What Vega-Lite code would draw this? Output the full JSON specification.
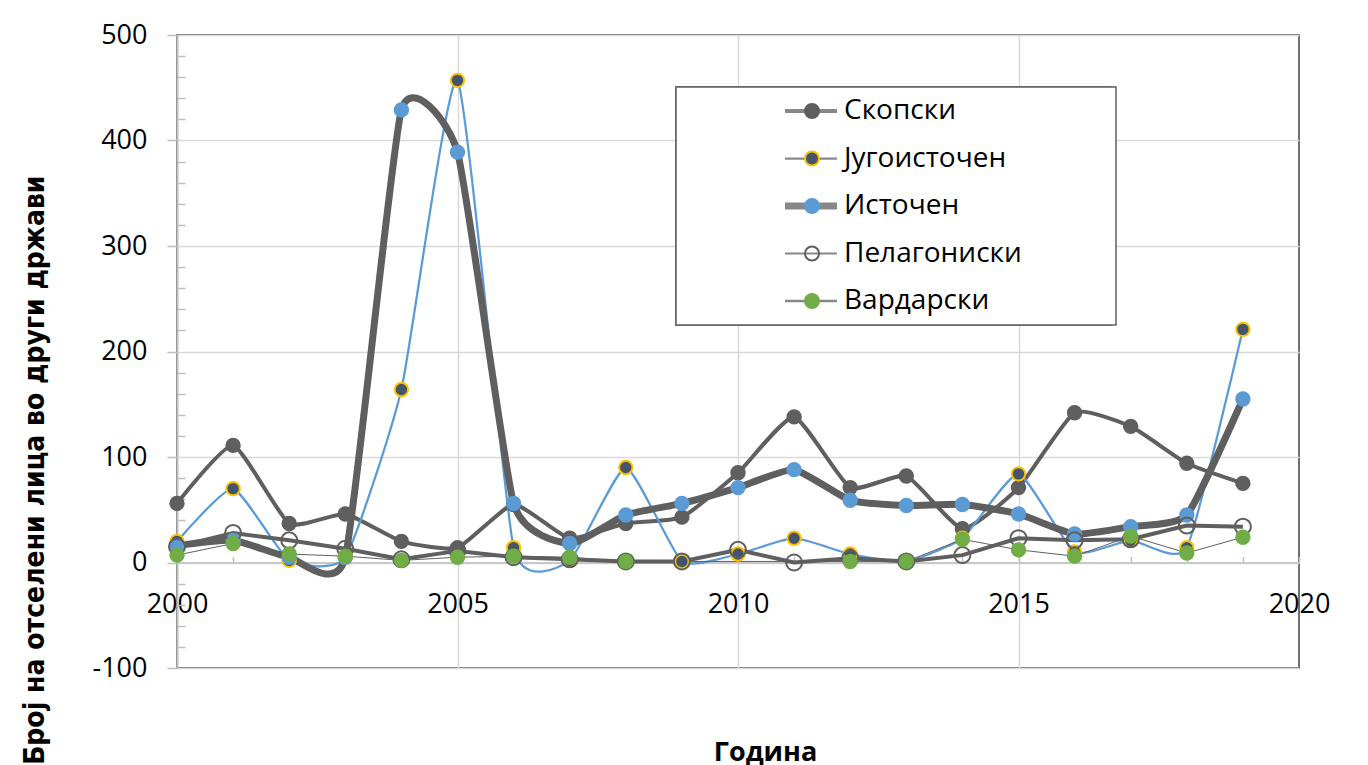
{
  "$schema": "https://vega.github.io/schema/vega-lite/v6.json",
  "width": 1122,
  "height": 633,
  "autosize": {"type": "none"},
  "padding": {"left": 177, "top": 35, "right": 69, "bottom": 97},
  "background": "white",
  "config": {
    "font": "Open Sans",
    "view": {"stroke": "#707070", "strokeWidth": 2},
    "axis": {"labelFont": "Open Sans", "labelFontSize": 27, "labelColor": "#000000", "gridColor": "#d9d9d9", "gridWidth": 1.5}
  },
  "datasets": {
    "d": [
      {"year": 2000, "series": "Скопски", "value": 56},
      {"year": 2001, "series": "Скопски", "value": 111},
      {"year": 2002, "series": "Скопски", "value": 37},
      {"year": 2003, "series": "Скопски", "value": 46},
      {"year": 2004, "series": "Скопски", "value": 20},
      {"year": 2005, "series": "Скопски", "value": 14},
      {"year": 2006, "series": "Скопски", "value": 55},
      {"year": 2007, "series": "Скопски", "value": 23},
      {"year": 2008, "series": "Скопски", "value": 37},
      {"year": 2009, "series": "Скопски", "value": 43},
      {"year": 2010, "series": "Скопски", "value": 85},
      {"year": 2011, "series": "Скопски", "value": 138},
      {"year": 2012, "series": "Скопски", "value": 71},
      {"year": 2013, "series": "Скопски", "value": 82},
      {"year": 2014, "series": "Скопски", "value": 32},
      {"year": 2015, "series": "Скопски", "value": 71},
      {"year": 2016, "series": "Скопски", "value": 142},
      {"year": 2017, "series": "Скопски", "value": 129},
      {"year": 2018, "series": "Скопски", "value": 94},
      {"year": 2019, "series": "Скопски", "value": 75},
      {"year": 2000, "series": "Југоисточен", "value": 20},
      {"year": 2001, "series": "Југоисточен", "value": 70},
      {"year": 2002, "series": "Југоисточен", "value": 2},
      {"year": 2003, "series": "Југоисточен", "value": 5},
      {"year": 2004, "series": "Југоисточен", "value": 164},
      {"year": 2005, "series": "Југоисточен", "value": 457},
      {"year": 2006, "series": "Југоисточен", "value": 14},
      {"year": 2007, "series": "Југоисточен", "value": 2},
      {"year": 2008, "series": "Југоисточен", "value": 90},
      {"year": 2009, "series": "Југоисточен", "value": 1},
      {"year": 2010, "series": "Југоисточен", "value": 8},
      {"year": 2011, "series": "Југоисточен", "value": 23},
      {"year": 2012, "series": "Југоисточен", "value": 8},
      {"year": 2013, "series": "Југоисточен", "value": 1},
      {"year": 2014, "series": "Југоисточен", "value": 23},
      {"year": 2015, "series": "Југоисточен", "value": 84},
      {"year": 2016, "series": "Југоисточен", "value": 10},
      {"year": 2017, "series": "Југоисточен", "value": 21},
      {"year": 2018, "series": "Југоисточен", "value": 14},
      {"year": 2019, "series": "Југоисточен", "value": 221},
      {"year": 2000, "series": "Источен", "value": 16},
      {"year": 2001, "series": "Источен", "value": 21},
      {"year": 2002, "series": "Источен", "value": 5},
      {"year": 2003, "series": "Источен", "value": 5},
      {"year": 2004, "series": "Источен", "value": 429},
      {"year": 2005, "series": "Источен", "value": 389},
      {"year": 2006, "series": "Источен", "value": 56},
      {"year": 2007, "series": "Источен", "value": 18},
      {"year": 2008, "series": "Источен", "value": 45},
      {"year": 2009, "series": "Источен", "value": 56},
      {"year": 2010, "series": "Источен", "value": 71},
      {"year": 2011, "series": "Источен", "value": 88},
      {"year": 2012, "series": "Источен", "value": 59},
      {"year": 2013, "series": "Источен", "value": 54},
      {"year": 2014, "series": "Источен", "value": 55},
      {"year": 2015, "series": "Источен", "value": 46},
      {"year": 2016, "series": "Источен", "value": 27},
      {"year": 2017, "series": "Источен", "value": 34},
      {"year": 2018, "series": "Источен", "value": 45},
      {"year": 2019, "series": "Источен", "value": 155},
      {"year": 2000, "series": "Пелагониски", "value": 15},
      {"year": 2001, "series": "Пелагониски", "value": 28},
      {"year": 2002, "series": "Пелагониски", "value": 21},
      {"year": 2003, "series": "Пелагониски", "value": 13},
      {"year": 2004, "series": "Пелагониски", "value": 3},
      {"year": 2005, "series": "Пелагониски", "value": 11},
      {"year": 2006, "series": "Пелагониски", "value": 5},
      {"year": 2007, "series": "Пелагониски", "value": 3},
      {"year": 2008, "series": "Пелагониски", "value": 1},
      {"year": 2009, "series": "Пелагониски", "value": 1},
      {"year": 2010, "series": "Пелагониски", "value": 12},
      {"year": 2011, "series": "Пелагониски", "value": 0},
      {"year": 2012, "series": "Пелагониски", "value": 4},
      {"year": 2013, "series": "Пелагониски", "value": 1},
      {"year": 2014, "series": "Пелагониски", "value": 7},
      {"year": 2015, "series": "Пелагониски", "value": 23},
      {"year": 2016, "series": "Пелагониски", "value": 21},
      {"year": 2017, "series": "Пелагониски", "value": 22},
      {"year": 2018, "series": "Пелагониски", "value": 35},
      {"year": 2019, "series": "Пелагониски", "value": 34},
      {"year": 2000, "series": "Вардарски", "value": 7},
      {"year": 2001, "series": "Вардарски", "value": 18},
      {"year": 2002, "series": "Вардарски", "value": 8},
      {"year": 2003, "series": "Вардарски", "value": 6},
      {"year": 2004, "series": "Вардарски", "value": 2},
      {"year": 2005, "series": "Вардарски", "value": 5},
      {"year": 2006, "series": "Вардарски", "value": 6},
      {"year": 2007, "series": "Вардарски", "value": 5},
      {"year": 2008, "series": "Вардарски", "value": 1},
      {"year": 2012, "series": "Вардарски", "value": 1},
      {"year": 2013, "series": "Вардарски", "value": 1},
      {"year": 2014, "series": "Вардарски", "value": 22},
      {"year": 2015, "series": "Вардарски", "value": 12},
      {"year": 2016, "series": "Вардарски", "value": 6},
      {"year": 2017, "series": "Вардарски", "value": 25},
      {"year": 2018, "series": "Вардарски", "value": 9},
      {"year": 2019, "series": "Вардарски", "value": 24}
    ]
  },
  "data": {"name": "d"},
  "encoding": {
    "x": {
      "field": "year", "type": "quantitative",
      "scale": {"domain": [2000, 2020], "nice": false, "zero": false},
      "axis": {
        "orient": "bottom", "offset": -105.5,
        "values": [2000,2001,2002,2003,2004,2005,2006,2007,2008,2009,2010,2011,2012,2013,2014,2015,2016,2017,2018,2019,2020],
        "labelExpr": "datum.value % 5 === 0 ? toString(datum.value) : ''",
        "labelFlush": false, "labelOverlap": false, "labelPadding": 35,
        "tickSize": -6, "tickColor": "#bfbfbf", "tickWidth": 1.5,
        "domainColor": "#c8c8c8", "domainWidth": 2,
        "grid": true,
        "gridOpacity": {"condition": {"test": "datum.value % 5 === 0 && datum.value > 2000 && datum.value < 2020", "value": 1}, "value": 0},
        "title": "Година", "titleFont": "Open Sans", "titleFontSize": 27, "titleFontWeight": "bold", "titleColor": "#000000",
        "titleX": 588, "titleY": 190, "titleBaseline": "middle"
      }
    },
    "y": {
      "field": "value", "type": "quantitative",
      "scale": {"domain": [-100, 500], "nice": false},
      "axis": {
        "values": [-100,-80,-60,-40,-20,0,20,40,60,80,100,120,140,160,180,200,220,240,260,280,300,320,340,360,380,400,420,440,460,480,500],
        "labelExpr": "datum.value % 100 === 0 ? toString(datum.value) : ''",
        "labelFlush": false, "labelOverlap": false, "labelPadding": 20,
        "tickSize": {"condition": {"test": "datum.value % 100 === 0", "value": 10}, "value": -8},
        "tickColor": "#bfbfbf", "tickWidth": 1.5,
        "domainColor": "#bfbfbf", "domainWidth": 2,
        "grid": true,
        "gridOpacity": {"condition": {"test": "datum.value % 100 === 0", "value": 1}, "value": 0},
        "title": "Број на отселени лица во други држави",
        "titleFont": "DejaVu Sans Condensed", "titleFontSize": 28, "titleFontWeight": "bold", "titleColor": "#000000",
        "titleX": -142, "titleY": 140, "titleAlign": "right", "titleBaseline": "middle"
      }
    }
  },
  "resolve": {"legend": {"fill": "independent", "stroke": "independent"}},
  "layer": [
    {
      "transform": [{"filter": {"field": "series", "oneOf": ["Скопски", "Југоисточен", "Источен"]}}],
      "mark": {"type": "line", "interpolate": "cardinal", "tension": 0.5},
      "encoding": {
        "color": {
          "field": "series", "type": "nominal",
          "scale": {"domain": ["Скопски", "Југоисточен", "Источен", "Пелагониски", "Вардарски"], "range": ["#5f5f5f", "#5b9bd5", "#5f5f5f", "#5f5f5f", "#5f5f5f"]},
          "legend": {
            "title": null, "orient": "none", "legendX": 499, "legendY": 52, "padding": 10,
            "symbolType": "stroke", "symbolSize": 2704, "symbolOffset": 95.5, "clipHeight": 28,
            "labelFont": "Open Sans", "labelFontSize": 28, "labelColor": "#000000", "labelOffset": 3.5, "labelLimit": 600,
            "labelExpr": "datum.label + '\u2800\u2800\u2800\u2800'",
            "rowPadding": 19.5, "fillColor": "white", "strokeColor": "#5f5f5f", "zindex": 0,
            "encode": {"legend": {"update": {"strokeWidth": {"value": 1.5}}}}
          }
        },
        "strokeWidth": {
          "field": "series", "type": "nominal",
          "scale": {"type": "ordinal", "domain": ["Скопски", "Југоисточен", "Источен", "Пелагониски", "Вардарски"], "range": [4, 2.25, 7, 2, 2.5]},
          "legend": {
            "title": null, "orient": "none", "legendX": 499, "legendY": 52, "padding": 10,
            "symbolType": "stroke", "symbolSize": 2704, "symbolOffset": 95.5, "clipHeight": 28,
            "labelFont": "Open Sans", "labelFontSize": 28, "labelColor": "#000000", "labelOffset": 3.5, "labelLimit": 600,
            "labelExpr": "datum.label + '\u2800\u2800\u2800\u2800'",
            "rowPadding": 19.5, "fillColor": "white", "strokeColor": "#5f5f5f", "zindex": 0,
            "encode": {"legend": {"update": {"strokeWidth": {"value": 1.5}}}}
          }
        }
      }
    },
    {
      "transform": [{"filter": {"field": "series", "oneOf": ["Пелагониски", "Вардарски"]}}],
      "mark": {"type": "line", "interpolate": "linear"},
      "encoding": {
        "color": {"field": "series", "type": "nominal", "legend": null},
        "strokeWidth": {"field": "series", "type": "nominal", "legend": null}
      }
    },
    {
      "mark": {"type": "circle", "opacity": 1, "strokeWidth": 2},
      "encoding": {
        "fill": {
          "field": "series", "type": "nominal",
          "scale": {"domain": ["Скопски", "Југоисточен", "Источен", "Пелагониски", "Вардарски"], "range": ["#5f5f5f", "#44546a", "#5b9bd5", "transparent", "#70ad47"]},
          "legend": {
            "title": null, "orient": "none", "legendX": 499, "legendY": 52, "padding": 10,
            "symbolType": "circle", "symbolSize": 196, "symbolStrokeWidth": 2, "symbolOffset": 112, "clipHeight": 28,
            "labelFontSize": 28, "labelExpr": "''", "rowPadding": 19.5, "zindex": 1
          }
        },
        "stroke": {
          "field": "series", "type": "nominal",
          "scale": {"domain": ["Скопски", "Југоисточен", "Источен", "Пелагониски", "Вардарски"], "range": ["#5f5f5f", "#ffc000", "#5b9bd5", "#5f5f5f", "#70ad47"]},
          "legend": {
            "title": null, "orient": "none", "legendX": 499, "legendY": 52, "padding": 10,
            "symbolType": "circle", "symbolSize": 196, "symbolStrokeWidth": 2, "symbolOffset": 112, "clipHeight": 28,
            "labelFontSize": 28, "labelExpr": "''", "rowPadding": 19.5, "zindex": 1
          }
        },
        "size": {"condition": {"test": "datum.series === 'Пелагониски'", "value": 256}, "value": 180}
      }
    }
  ]
}
